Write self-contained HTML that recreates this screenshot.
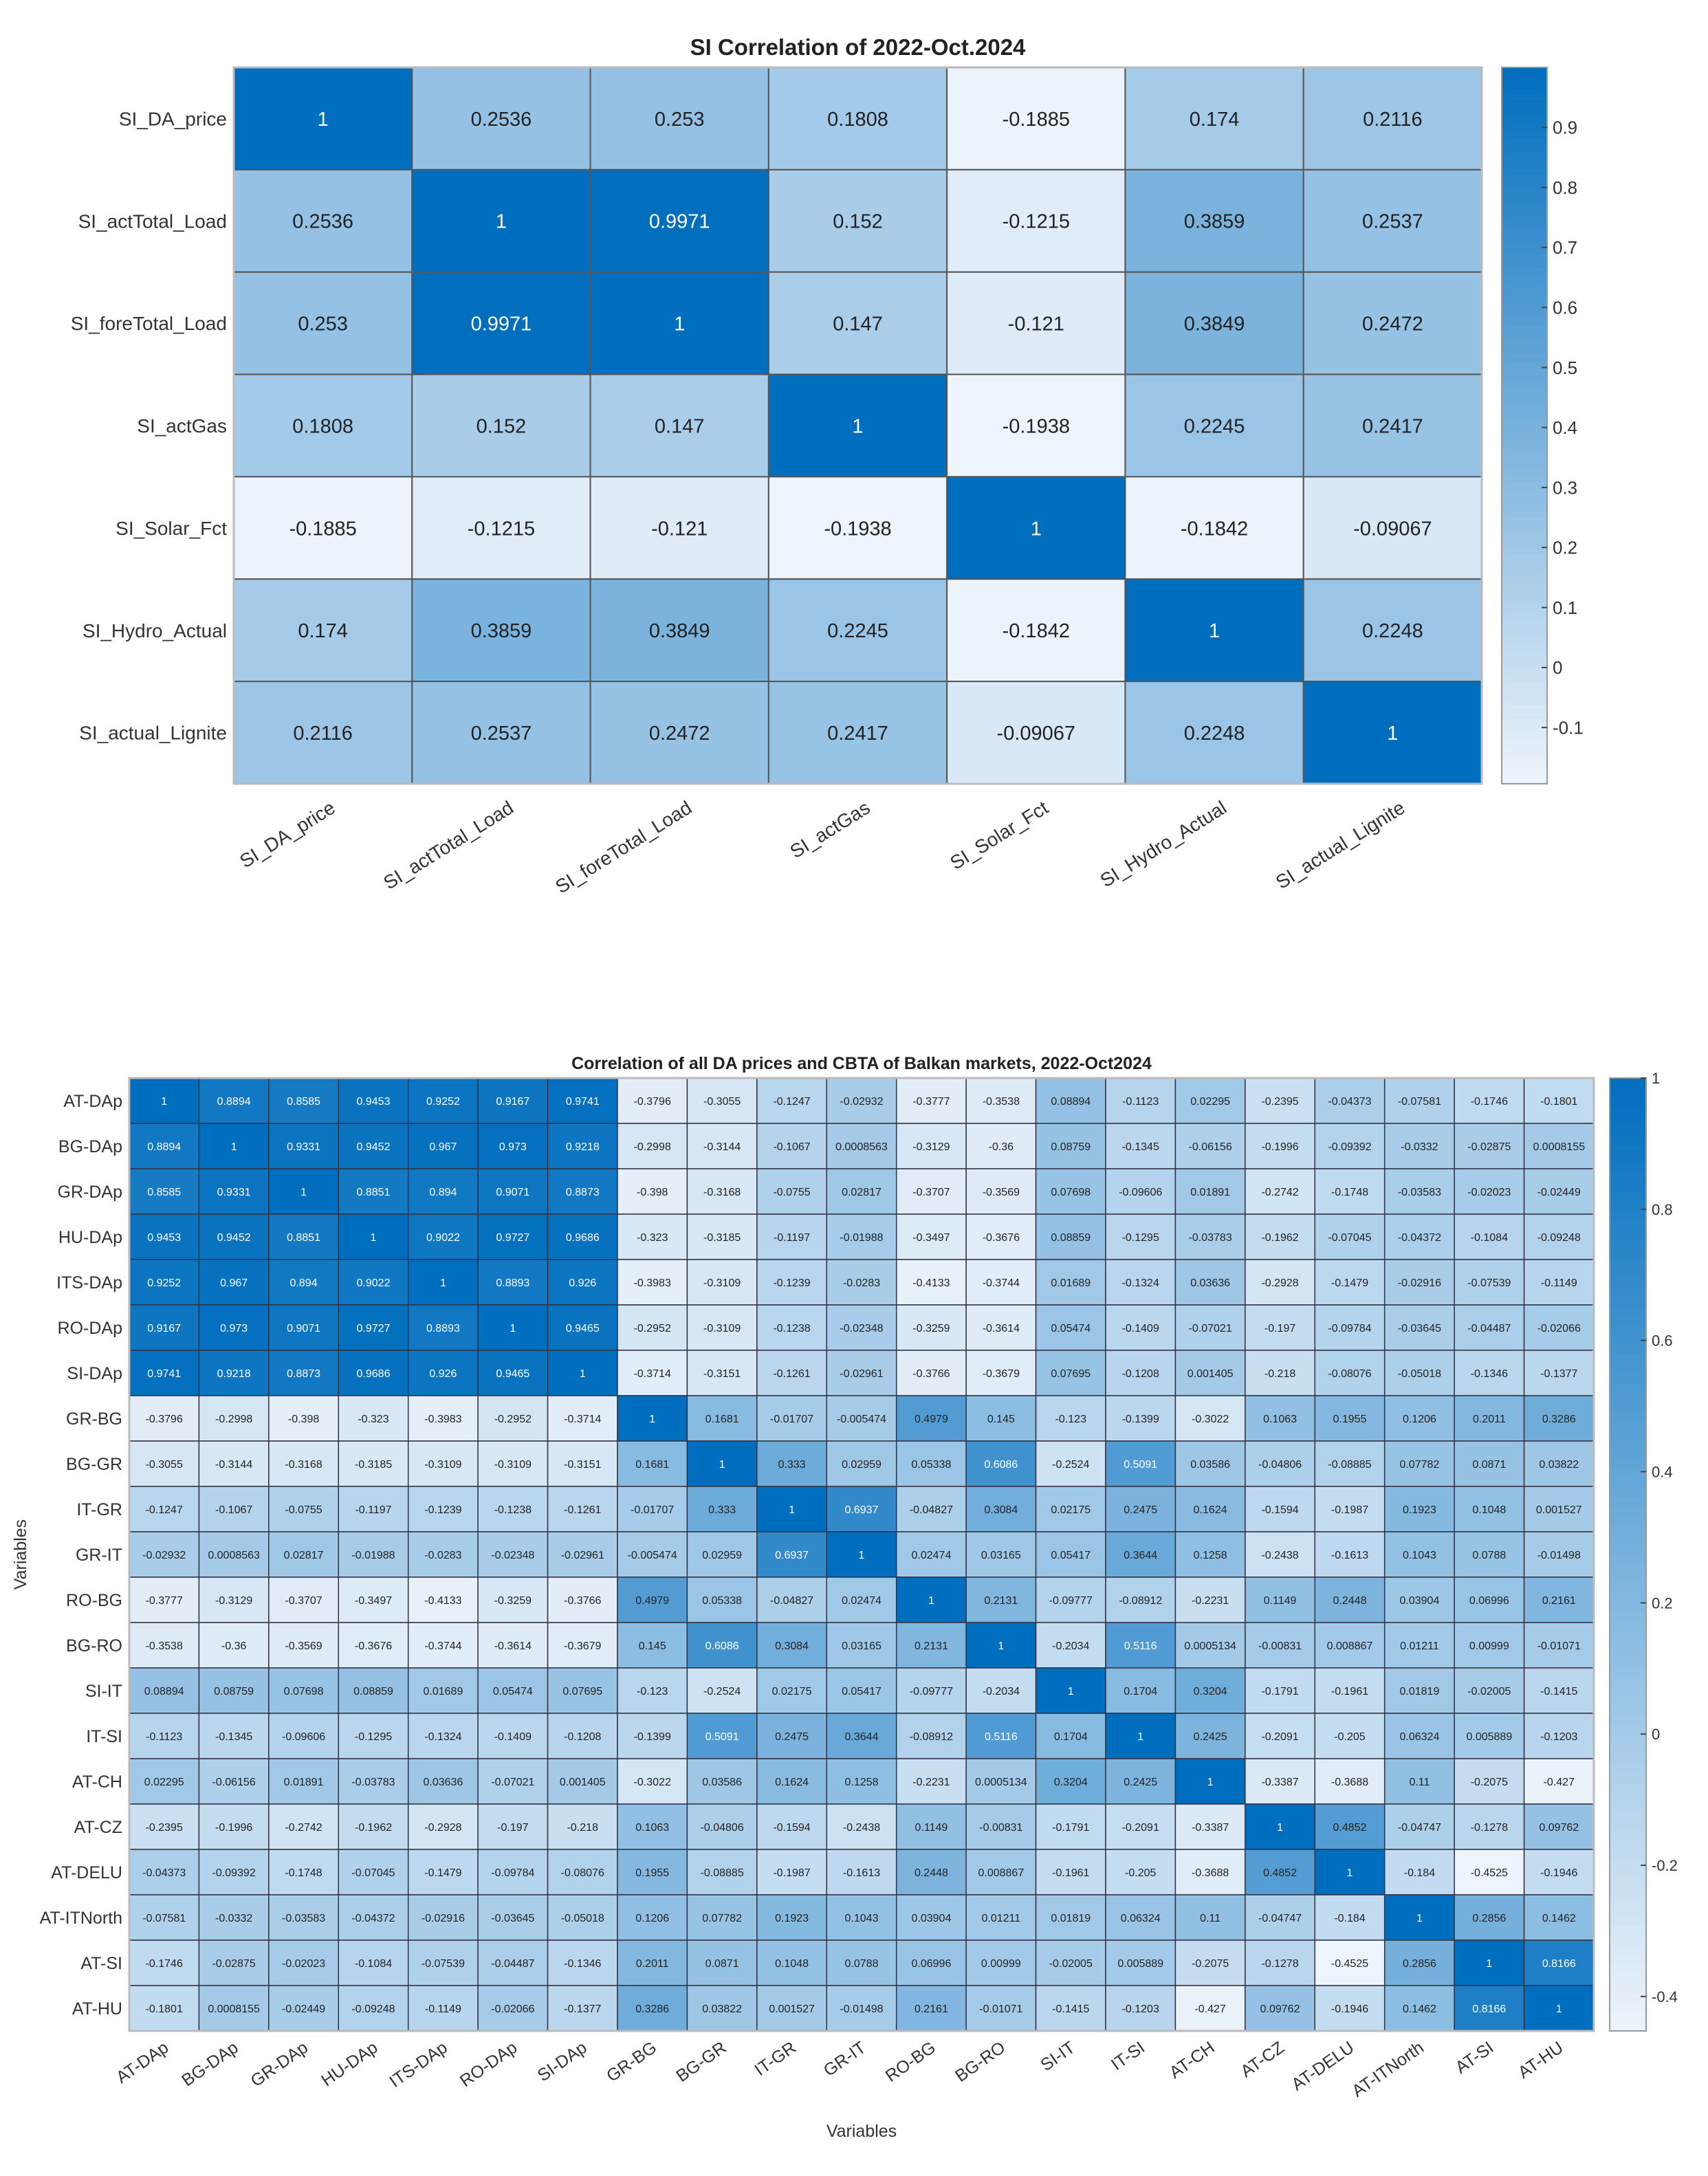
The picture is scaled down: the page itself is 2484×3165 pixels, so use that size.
<!DOCTYPE html>
<html><head><meta charset="utf-8">
<style>
html,body{margin:0;padding:0;background:#fff;}
svg{display:block;font-family:"Liberation Sans",Arial,sans-serif;}
</style></head>
<body>
<svg id="root" width="2484" height="3165" viewBox="0 0 2484 3165" xmlns="http://www.w3.org/2000/svg">
<rect width="2484" height="3165" fill="#fff"/>
<g id="chart1"></g>
<g id="chart2"></g>
</svg>
<script>
// ---------- Chart 1 data ----------
const labels1 = ["SI_DA_price","SI_actTotal_Load","SI_foreTotal_Load","SI_actGas","SI_Solar_Fct","SI_Hydro_Actual","SI_actual_Lignite"];
const upper1 = [
 [1,0.2536,0.253,0.1808,-0.1885,0.174,0.2116],
 [1,0.9971,0.152,-0.1215,0.3859,0.2537],
 [1,0.147,-0.121,0.3849,0.2472],
 [1,-0.1938,0.2245,0.2417],
 [1,-0.1842,-0.09067],
 [1,0.2248],
 [1]
];
const cbTicks1 = [0.9,0.8,0.7,0.6,0.5,0.4,0.3,0.2,0.1,0,-0.1];
const title1 = "SI Correlation of 2022-Oct.2024";

// ---------- Chart 2 data ----------
const labels2 = ["AT-DAp","BG-DAp","GR-DAp","HU-DAp","ITS-DAp","RO-DAp","SI-DAp","GR-BG","BG-GR","IT-GR","GR-IT","RO-BG","BG-RO","SI-IT","IT-SI","AT-CH","AT-CZ","AT-DELU","AT-ITNorth","AT-SI","AT-HU"];
const upper2 = [
 [1,0.8894,0.8585,0.9453,0.9252,0.9167,0.9741,-0.3796,-0.3055,-0.1247,-0.02932,-0.3777,-0.3538,0.08894,-0.1123,0.02295,-0.2395,-0.04373,-0.07581,-0.1746,-0.1801],
 [1,0.9331,0.9452,0.967,0.973,0.9218,-0.2998,-0.3144,-0.1067,0.0008563,-0.3129,-0.36,0.08759,-0.1345,-0.06156,-0.1996,-0.09392,-0.0332,-0.02875,0.0008155],
 [1,0.8851,0.894,0.9071,0.8873,-0.398,-0.3168,-0.0755,0.02817,-0.3707,-0.3569,0.07698,-0.09606,0.01891,-0.2742,-0.1748,-0.03583,-0.02023,-0.02449],
 [1,0.9022,0.9727,0.9686,-0.323,-0.3185,-0.1197,-0.01988,-0.3497,-0.3676,0.08859,-0.1295,-0.03783,-0.1962,-0.07045,-0.04372,-0.1084,-0.09248],
 [1,0.8893,0.926,-0.3983,-0.3109,-0.1239,-0.0283,-0.4133,-0.3744,0.01689,-0.1324,0.03636,-0.2928,-0.1479,-0.02916,-0.07539,-0.1149],
 [1,0.9465,-0.2952,-0.3109,-0.1238,-0.02348,-0.3259,-0.3614,0.05474,-0.1409,-0.07021,-0.197,-0.09784,-0.03645,-0.04487,-0.02066],
 [1,-0.3714,-0.3151,-0.1261,-0.02961,-0.3766,-0.3679,0.07695,-0.1208,0.001405,-0.218,-0.08076,-0.05018,-0.1346,-0.1377],
 [1,0.1681,-0.01707,-0.005474,0.4979,0.145,-0.123,-0.1399,-0.3022,0.1063,0.1955,0.1206,0.2011,0.3286],
 [1,0.333,0.02959,0.05338,0.6086,-0.2524,0.5091,0.03586,-0.04806,-0.08885,0.07782,0.0871,0.03822],
 [1,0.6937,-0.04827,0.3084,0.02175,0.2475,0.1624,-0.1594,-0.1987,0.1923,0.1048,0.001527],
 [1,0.02474,0.03165,0.05417,0.3644,0.1258,-0.2438,-0.1613,0.1043,0.0788,-0.01498],
 [1,0.2131,-0.09777,-0.08912,-0.2231,0.1149,0.2448,0.03904,0.06996,0.2161],
 [1,-0.2034,0.5116,0.0005134,-0.00831,0.008867,0.01211,0.00999,-0.01071],
 [1,0.1704,0.3204,-0.1791,-0.1961,0.01819,-0.02005,-0.1415],
 [1,0.2425,-0.2091,-0.205,0.06324,0.005889,-0.1203],
 [1,-0.3387,-0.3688,0.11,-0.2075,-0.427],
 [1,0.4852,-0.04747,-0.1278,0.09762],
 [1,-0.184,-0.4525,-0.1946],
 [1,0.2856,0.1462],
 [1,0.8166],
 [1]
];
const cbTicks2 = [1,0.8,0.6,0.4,0.2,0,-0.2,-0.4];
const title2 = "Correlation of all DA prices and CBTA of Balkan markets, 2022-Oct2024";

const NS = "http://www.w3.org/2000/svg";
function mk(parent, tag, attrs){
  const e = document.createElementNS(NS, tag);
  for (const k in attrs) e.setAttribute(k, attrs[k]);
  parent.appendChild(e);
  return e;
}
function fullMatrix(up){
  const n = up.length, m = [];
  for (let i=0;i<n;i++){ m.push(new Array(n)); }
  for (let i=0;i<n;i++) for (let j=0;j<up[i].length;j++){ m[i][i+j]=up[i][j]; m[i+j][i]=up[i][j]; }
  return m;
}
const C0=[238,244,251], C1=[0,110,190];
function color(t){
  t=Math.max(0,Math.min(1,t));
  const c=C0.map((a,i)=>Math.round(a+(C1[i]-a)*t));
  return `rgb(${c[0]},${c[1]},${c[2]})`;
}
function fmt(v){ return String(v); }

function drawHeatmap(g, opt){
  const M = fullMatrix(opt.upper), n = opt.labels.length;
  let mn=Infinity, mx=-Infinity;
  M.forEach(r=>r.forEach(v=>{ if(v<mn)mn=v; if(v>mx)mx=v; }));
  const cw=(opt.x1-opt.x0)/n, ch=(opt.y1-opt.y0)/n;
  const xc=j=>opt.x0+cw*(j+0.5), yc=i=>opt.y0+ch*(i+0.5);
  const tnorm=v=>(v-mn)/(mx-mn);
  // title
  const tt=mk(g,"text",{x:(opt.x0+opt.x1)/2,y:opt.titleY,"text-anchor":"middle","font-size":opt.titleSize,"font-weight":"bold",fill:"#222"});
  tt.textContent=opt.title;
  
  
  for(let i=0;i<n;i++) for(let j=0;j<n;j++){
    const v=M[i][j];
    const r=mk(g,"rect",{x:opt.x0+cw*j,y:opt.y0+ch*i,width:cw,height:ch,fill:color(tnorm(v)),stroke:opt.grid,"stroke-width":opt.gridW});
    
    
    const t=mk(g,"text",{x:xc(j),y:yc(i)+opt.cellFont*0.36,"text-anchor":"middle","font-size":opt.cellFont,fill:tnorm(v)>0.655?"#fff":"#222"});
    t.textContent=fmt(v);
    
    
  }
  mk(g,"rect",{x:opt.x0,y:opt.y0,width:opt.x1-opt.x0,height:opt.y1-opt.y0,fill:"none",stroke:"#bbb","stroke-width":3});
  for(let i=0;i<n;i++){
    const t=mk(g,"text",{x:opt.x0-10,y:yc(i)+opt.labFont*0.36,"text-anchor":"end","font-size":opt.labFont,fill:"#333"});
    t.textContent=opt.labels[i];
    
    
    const ax=xc(i)+opt.xlabDx, ay=opt.y1+opt.xlabDy;
    const t2=mk(g,"text",{x:ax,y:ay,"text-anchor":"end","font-size":opt.labFont,fill:"#333",transform:`rotate(${opt.rot} ${ax} ${ay})`});
    t2.textContent=opt.labels[i];
    
    
  }
  // colorbar
  const cb=mk(g,"g",{});
  
  
  const steps=100, bh=(opt.y1-opt.y0)/steps;
  for(let s=0;s<steps;s++){
    mk(cb,"rect",{x:opt.cbx0,y:opt.y0+s*bh,width:opt.cbx1-opt.cbx0,height:bh+0.8,fill:color(1-(s+0.5)/steps)});
  }
  mk(cb,"rect",{x:opt.cbx0,y:opt.y0,width:opt.cbx1-opt.cbx0,height:opt.y1-opt.y0,fill:"none",stroke:"#999","stroke-width":2});
  const yv=v=>opt.y0+(mx-v)/(mx-mn)*(opt.y1-opt.y0);
  opt.ticks.forEach(v=>{
    const y=yv(v);
    mk(cb,"line",{x1:opt.cbx1-8,x2:opt.cbx1,y1:y,y2:y,stroke:"#444","stroke-width":2});
    const t=mk(cb,"text",{x:opt.cbx1+8,y:y+opt.cbFont*0.36,"font-size":opt.cbFont,fill:"#333"});
    t.textContent=String(v);
    
    
  });
}

drawHeatmap(document.getElementById("chart1"),{
  labels:labels1, upper:upper1, title:title1, ticks:cbTicks1,
  x0:340,x1:2155,y0:98,y1:1140, cbx0:2184,cbx1:2250,
  titleY:80,titleSize:33, cellFont:29, labFont:28, cbFont:26,
  grid:"#555",gridW:2, rot:-32, xlabDx:20, xlabDy:40
});
drawHeatmap(document.getElementById("chart2"),{
  labels:labels2, upper:upper2, title:title2, ticks:cbTicks2,
  x0:188,x1:2318,y0:1568,y1:2954, cbx0:2341,cbx1:2394,
  titleY:1555,titleSize:25, cellFont:16, labFont:25, cbFont:22,
  grid:"#334",gridW:1.5, rot:-35, xlabDx:8, xlabDy:28
});
// axis titles for chart2
const g2=document.getElementById("chart2");
const yl=mk(g2,"text",{x:38,y:2261,"text-anchor":"middle","font-size":25,fill:"#333",transform:"rotate(-90 38 2261)"});
yl.textContent="Variables";


const xl=mk(g2,"text",{x:1253,y:3108,"text-anchor":"middle","font-size":25,fill:"#333"});
xl.textContent="Variables";


</script>
</body></html>
